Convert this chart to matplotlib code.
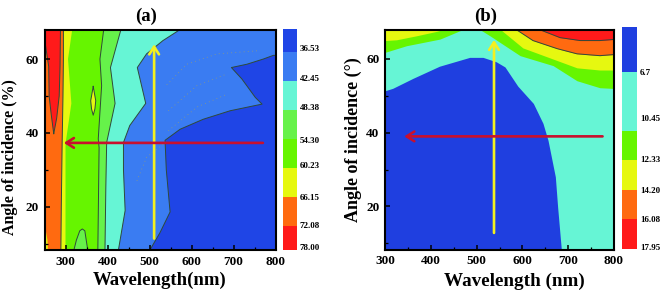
import numpy as np
import matplotlib
matplotlib.use('Agg')
import matplotlib.pyplot as plt

plt.rcParams['font.family'] = ['Liberation Serif', 'DejaVu Serif']
plt.rcParams['font.weight'] = 'bold'

W, H = 661, 300
YMIN, YMAX = 8.3, 68

DARK = '#1f45e6'
BLUE = '#3a7cf2'
CYAN = '#66f5d5'
LGREEN = '#66f24a'
GREEN = '#66f500'
YELLOW = '#e6f810'
ORANGE = '#ff6a10'
RED = '#ff1a1a'
LINE = '#2f4a3a'

# panel a, boundaries between the bands: wavelength, angle
a_blue_x = [501, 525, 549, 540, 537, 573, 628, 692, 768, 752, 720, 695, 732, 771, 795, 800, 800]
a_blue_y = [8.3, 13, 18.6, 30, 38, 41, 43.7, 46, 47.8, 49.6, 54.6, 57.7, 58.6, 60, 61, 61, 68]
a_cyan_x = [426, 442, 438, 438, 453, 491, 471, 493, 532, 573]
a_cyan_y = [8.3, 19, 30, 37.4, 42, 48, 57.7, 61.4, 65, 68]
a_lgreen_x = [394, 396, 398, 418, 407, 432]
a_lgreen_y = [8.3, 25, 37.4, 48, 57.7, 68]
a_green_x = [377, 380, 378, 386, 382, 391]
a_green_y = [8.3, 36, 38.4, 52.8, 60, 68]
a_yellow_x = [300, 300, 300, 314, 306, 316]
a_yellow_y = [8.3, 25, 37, 48, 60, 68]
a_orange_x = [289, 290, 292, 294, 295, 295]
a_orange_y = [8.3, 20, 37, 50, 60, 68]
a_red_x = [272, 266, 261, 260, 252, 250, 288, 287, 285, 279, 272]
a_red_y = [39.8, 45, 50, 58, 64, 68, 68, 58, 50, 44, 39.8]
a_island_x = [320, 326, 334, 340, 346, 350, 353]
a_island_y = [8.3, 11, 13.5, 14, 13.5, 10.5, 8.3]
a_spot_x = [366, 362, 360, 362, 366, 370, 372, 370, 366]
a_spot_y = [52.6, 50, 48.7, 46.5, 44.8, 46.5, 48.7, 50, 52.6]
a_corner_x = [250, 254, 257, 258, 250]
a_corner_y = [14.5, 13, 11, 8.3, 8.3]
a_dots = [([541, 589, 661, 764], [53, 58.6, 61.4, 62.3]),
          ([545, 613, 685], [46, 52.8, 56]),
          ([545, 613, 685], [40.6, 47, 50.5]),
          ([470, 493, 533], [27, 33.4, 37])]

# panel b
b_dark_x = [300, 300, 318, 362, 420, 453, 486, 515, 544, 563, 591, 625, 646, 657, 673, 678, 686]
b_dark_y = [8.3, 51.2, 51.9, 54.6, 57.9, 59.1, 60.3, 60.3, 59.1, 57.7, 52.5, 47.8, 42.4, 37.8, 27.9, 19.7, 8.3]
b_lgreen_x = [300, 347, 420, 470]
b_lgreen_y = [61.8, 63.6, 65.4, 68]
b_lyellow_x = [300, 325, 369, 413, 427]
b_lyellow_y = [65, 65.2, 66.3, 67.5, 68]
b_rgreen_x = [507, 529, 595, 667, 719, 769, 800]
b_rgreen_y = [68, 66.3, 60.9, 58.2, 54.1, 52.2, 52]
b_ryellow_x = [540, 555, 601, 660, 719, 769, 800]
b_ryellow_y = [68, 67.7, 63, 60.3, 57.6, 57, 57]
b_rorange_x = [580, 590, 623, 676, 719, 769, 800]
b_rorange_y = [68, 67.7, 65, 62.8, 61.4, 60.9, 61.2]
b_rred_x = [635, 643, 682, 726, 769, 800]
b_rred_y = [68, 67.7, 65.8, 65, 65, 65.3]

# colour scales
a_cb_edges = [31.8, 36.53, 42.45, 48.38, 54.30, 60.23, 66.15, 72.08, 77.0]
a_cb_colors = [DARK, BLUE, CYAN, LGREEN, GREEN, YELLOW, ORANGE, RED]
a_cb_pos = [36.0, 42.1, 48.0, 54.7, 59.9, 66.3, 72.1, 76.6]
a_cb_labels = ['36.53', '42.45', '48.38', '54.30', '60.23', '66.15', '72.08', '78.00']
b_cb_edges = [3.8, 6.7, 10.45, 12.33, 14.20, 16.08, 17.95]
b_cb_colors = ['#1f3fe0', CYAN, GREEN, YELLOW, ORANGE, RED]
b_cb_pos = [6.75, 9.7, 12.33, 14.28, 16.16, 17.9]
b_cb_labels = ['6.7', '10.45', '12.33', '14.20', '16.08', '17.95']


def px_axes(fig, left, top, right, bottom):
    return fig.add_axes([left / W, 1 - bottom / H, (right - left) / W, (bottom - top) / H])


def left_fill(ax, xs, ys, color):
    # everything from the left edge up to this boundary
    x0 = ax.get_xlim()[0]
    ax.fill(list(xs) + [x0, x0], list(ys) + [YMAX, YMIN], color=color, lw=0)


def edge(ax, xs, ys, lw=0.7):
    ax.plot(xs, ys, color=LINE, lw=lw, solid_joinstyle='round')


def style(ax, xticks, xminor):
    ax.set_ylim(YMIN, YMAX)
    ax.set_xticks(xticks)
    ax.set_xticks(xminor, minor=True)
    ax.set_yticks([20, 40, 60])
    ax.set_yticks([10, 30, 50], minor=True)
    ax.tick_params(which='major', direction='in', length=3.5, width=1.1, labelsize=9.5, pad=4)
    ax.tick_params(which='minor', direction='in', length=2, width=0.9)
    for s in ax.spines.values():
        s.set_linewidth(1.5)
        s.set_zorder(10)
    ax.set_axisbelow(False)


def arrows(ax, yellow, red):
    ax.annotate('', xy=yellow[1], xytext=yellow[0],
                arrowprops=dict(arrowstyle='->,head_length=0.55,head_width=0.35', color='#f2f020', lw=1.9, shrinkA=0, shrinkB=0))
    ax.annotate('', xy=red[1], xytext=red[0],
                arrowprops=dict(arrowstyle='->,head_length=0.55,head_width=0.35', color='#c8102e', lw=1.9, shrinkA=0, shrinkB=0))


def colorbar(fig, box, edges, colors, pos, labels, xtext):
    ax = px_axes(fig, *box)
    ax.bar(0, np.diff(edges), bottom=edges[:-1], width=1, color=colors)
    ax.set_xlim(-0.5, 0.5)
    ax.set_ylim(edges[-1], edges[0])
    ax.axis('off')
    for p, t in zip(pos, labels):
        ax.annotate(t, xy=(1, p), xycoords=('axes fraction', 'data'), xytext=(xtext, 0),
                    textcoords='offset pixels', va='center', ha='left', fontsize=6.5)


fig = plt.figure(figsize=(W / 100, H / 100), dpi=100)

# (a)
ax = px_axes(fig, 44.5, 29.5, 275.5, 250)
ax.set_xlim(250, 800)
ax.set_facecolor(DARK)
left_fill(ax, a_blue_x, a_blue_y, BLUE)
left_fill(ax, a_cyan_x, a_cyan_y, CYAN)
left_fill(ax, a_lgreen_x, a_lgreen_y, LGREEN)
left_fill(ax, a_green_x, a_green_y, GREEN)
ax.fill(a_island_x, a_island_y, color=LGREEN, lw=0)
ax.fill(a_spot_x, a_spot_y, color=YELLOW, lw=0)
left_fill(ax, a_yellow_x, a_yellow_y, YELLOW)
left_fill(ax, a_orange_x, a_orange_y, ORANGE)
ax.fill(a_red_x, a_red_y, color=RED, lw=0)
ax.fill(a_corner_x, a_corner_y, color=YELLOW, lw=0)
for xs, ys in [(a_blue_x, a_blue_y), (a_cyan_x, a_cyan_y), (a_lgreen_x, a_lgreen_y),
               (a_green_x, a_green_y), (a_orange_x, a_orange_y), (a_red_x, a_red_y),
               (a_island_x, a_island_y), (a_spot_x, a_spot_y)]:
    edge(ax, xs, ys)
for xs, ys in a_dots:
    ax.plot(xs, ys, color='#8f9a80', lw=0.6, ls=(0, (1, 4)))
arrows(ax, ((511, 11.4), (511, 64)), ((770, 37.3), (296, 37.3)))
style(ax, range(300, 801, 100), range(350, 800, 100))
ax.set_title('(a)', fontsize=13.5, pad=6, x=0.44, fontweight='bold')
ax.set_xlabel('Wavelength(nm)', fontsize=13.5, labelpad=3, fontweight='bold')
ax.set_ylabel('Angle of incidence (%)', fontsize=11.5, fontweight='bold')
ax.yaxis.set_label_coords(-0.113, 0.42)
colorbar(fig, (283, 28.5, 297, 250), a_cb_edges, a_cb_colors, a_cb_pos, a_cb_labels, 3)

# (b)
ax = px_axes(fig, 385, 29.5, 614, 249.5)
ax.set_xlim(300, 800)
ax.set_facecolor(CYAN)
ax.fill(b_dark_x, b_dark_y, color='#1f3fe0', lw=0)
ax.fill_between(b_lgreen_x, b_lgreen_y, YMAX, color=GREEN, lw=0)
ax.fill_between(b_lyellow_x, b_lyellow_y, YMAX, color=YELLOW, lw=0)
ax.fill_between(b_rgreen_x, b_rgreen_y, YMAX, color=GREEN, lw=0)
ax.fill_between(b_ryellow_x, b_ryellow_y, YMAX, color=YELLOW, lw=0)
ax.fill_between(b_rorange_x, b_rorange_y, YMAX, color=ORANGE, lw=0)
ax.fill_between(b_rred_x, b_rred_y, YMAX, color=RED, lw=0)
edge(ax, b_rorange_x, b_rorange_y)
edge(ax, b_rred_x, b_rred_y)
arrows(ax, ((538, 12.8), (538, 65.2)), ((775, 39), (342, 39)))
style(ax, range(300, 801, 100), range(350, 800, 100))
ax.set_title('(b)', fontsize=13.5, pad=6, x=0.44, fontweight='bold')
ax.set_xlabel('Wavelength (nm)', fontsize=13.8, fontweight='bold')
ax.xaxis.set_label_coords(0.567, -0.105)
ax.set_ylabel('Angle of incidence (\u00b0)', fontsize=13, labelpad=3, fontweight='bold')
colorbar(fig, (622, 26.5, 637, 248.5), b_cb_edges, b_cb_colors, b_cb_pos, b_cb_labels, 3)

fig.savefig('out.png', dpi=100)
